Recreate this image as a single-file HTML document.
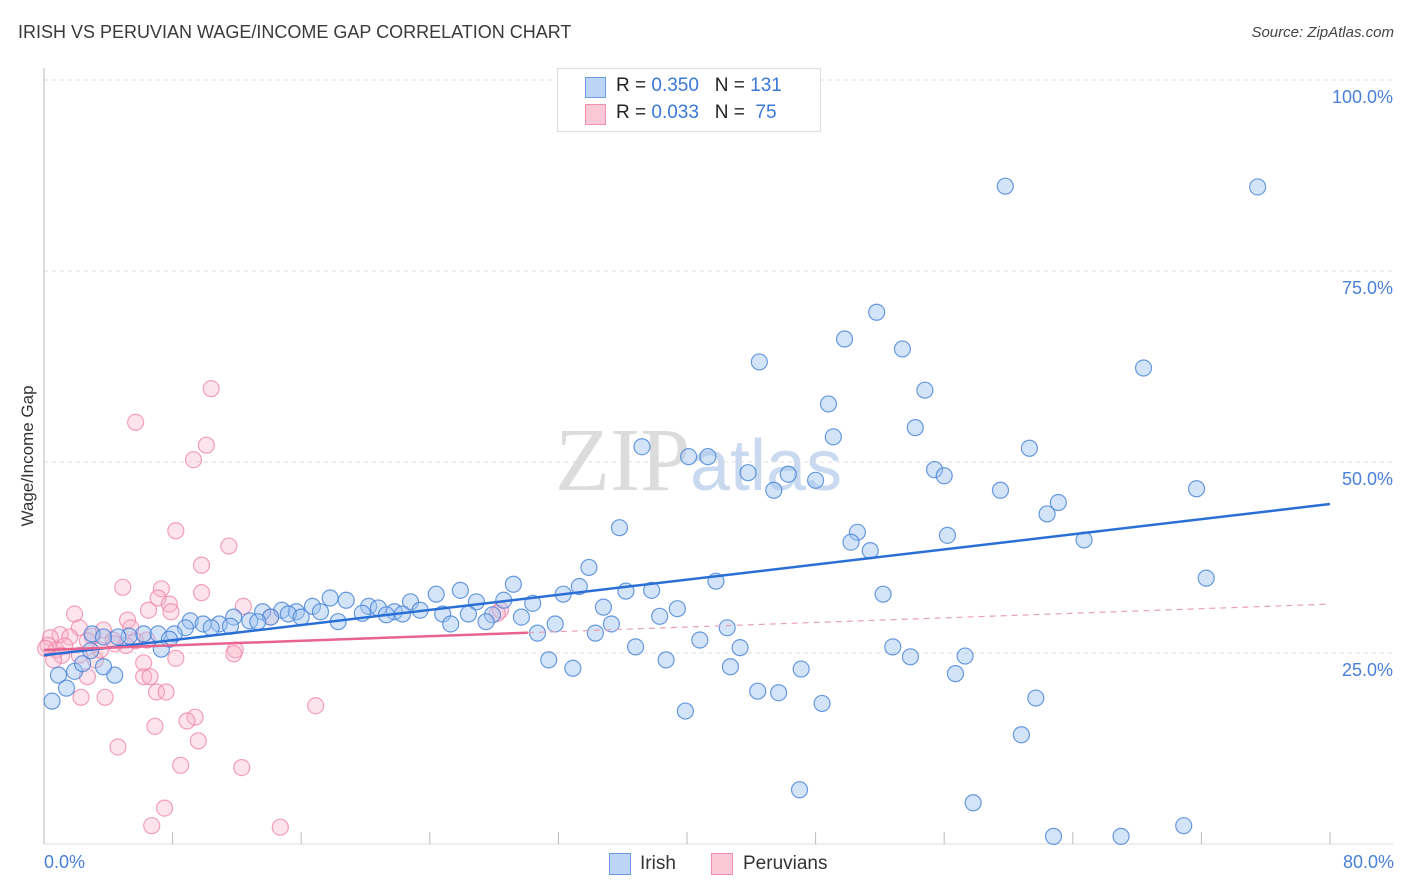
<!DOCTYPE html>
<html><head><meta charset="utf-8">
<style>
body{margin:0;background:#fff;font-family:"Liberation Sans",sans-serif;}
#wrap{position:relative;width:1406px;height:892px;overflow:hidden;}
.t{position:absolute;white-space:nowrap;}
</style></head>
<body>
<div id="wrap">
<div class="t" style="left:18px;top:22px;font-size:18px;color:#3a3a3a;">IRISH VS PERUVIAN WAGE/INCOME GAP CORRELATION CHART</div>
<div class="t" style="right:12px;top:24px;font-size:15px;color:#444;font-style:italic;">Source: ZipAtlas.com</div>
<svg id="svg" width="1406" height="892" style="position:absolute;left:0;top:0"></svg>
</div>
<script>
const irishX=[59.8,75.5,51.8,49.8,53.4,44.5,68.4,54.8,48.8,54.2,49.1,37.2,61.3,40.1,41.3,55.4,43.8,46.3,56.0,48.0,45.4,59.5,71.7,63.1,62.4,35.8,50.6,56.2,50.2,64.7,51.4,33.9,29.2,33.3,41.8,72.3,25.9,36.2,32.3,37.8,52.2,24.4,17.8,18.8,26.9,28.6,30.4,16.7,20.2,22.8,34.8,39.4,13.6,14.8,15.7,17.2,20.8,21.8,23.4,11.8,14.1,15.2,16.0,19.8,21.3,22.3,24.8,26.4,27.9,38.3,9.1,9.9,10.9,12.8,18.3,13.3,27.5,29.7,31.8,35.3,42.5,8.8,10.4,11.6,25.3,8.1,6.2,7.1,5.3,4.6,7.8,30.7,34.3,40.8,7.3,36.8,43.3,52.8,57.3,53.9,31.4,38.7,42.7,47.1,32.9,56.7,0.9,4.4,1.9,3.7,2.4,2.9,1.4,0.5,44.4,45.7,61.7,48.4,39.9,60.8,47.0,57.8,70.9,62.8,67.0,3.0,3.7];
const irishY=[86.1,86.0,69.6,66.1,64.8,63.1,62.3,59.4,57.6,54.5,53.3,52.0,51.8,50.7,50.7,49.0,48.6,48.4,48.2,47.6,46.3,46.3,46.5,44.7,43.2,41.4,40.8,40.4,39.5,39.8,38.4,36.2,34.0,33.7,34.4,34.8,33.2,33.1,32.7,33.2,32.7,32.7,32.2,31.9,31.7,31.9,31.5,31.1,31.1,31.7,31.0,30.8,30.4,30.6,30.4,30.4,30.9,30.4,30.6,29.7,29.7,30.1,29.7,30.2,30.0,30.1,30.1,30.1,30.0,29.8,29.2,28.8,28.8,29.2,29.1,29.1,29.1,29.7,28.8,28.8,28.3,28.3,28.3,28.5,28.8,27.5,27.5,27.5,27.2,27.1,26.8,27.6,27.6,26.7,25.5,25.8,25.7,25.8,24.6,24.5,24.1,24.1,23.2,22.9,23.0,22.3,22.1,22.1,22.6,23.2,23.6,25.3,20.4,18.7,20.0,19.8,19.1,18.4,17.4,14.3,7.1,5.4,2.4,1.0,1.0,27.5,27.1];
const peruX=[10.4,5.7,10.1,9.3,8.2,11.5,9.8,4.9,7.3,9.8,7.1,7.8,12.4,1.9,6.5,7.9,5.2,2.2,3.7,5.4,1.0,1.6,3.0,2.7,4.3,5.7,6.4,0.4,0.25,0.75,1.1,2.2,3.2,4.4,11.9,11.8,6.2,8.2,6.2,6.6,2.7,7.0,7.6,3.8,2.3,16.9,9.4,8.9,6.9,9.6,4.6,8.5,12.3,7.5,6.7,14.7,28.4,28.2,14.1,0.1,1.3,0.6,3.5,5.1];
const peruY=[59.6,55.2,52.2,50.3,41.0,39.0,36.5,33.6,33.4,32.9,32.2,31.4,31.1,30.1,30.6,30.4,29.3,28.3,28.0,28.3,27.4,27.1,27.2,26.6,26.7,26.6,26.7,27.0,26.0,25.4,24.7,24.7,24.1,26.2,25.4,24.9,23.7,24.3,21.9,21.9,21.9,19.9,19.9,19.2,19.2,18.1,16.6,16.1,15.4,13.5,12.7,10.3,10.0,4.7,2.4,2.2,30.6,30.2,29.7,25.6,25.9,24.1,25.4,26.0];
const yTicks=[25,50,75,100];
const yTickLabels=["25.0%","50.0%","75.0%","100.0%"];
const irishTrend=[24.7,44.5];
const peruTrend=[25.4,31.4];
const peruSolidEnd=30.1;

const NS="http://www.w3.org/2000/svg";
const svg=document.getElementById('svg');
const X0=44,X1=1330,Y0=844,Y100=80;
const sx=v=>X0+(X1-X0)*v/80;
const sy=v=>Y0-(Y0-Y100)*v/100;
function mk(tag,attrs,parent){const e=document.createElementNS(NS,tag);for(const k in attrs)e.setAttribute(k,attrs[k]);(parent||svg).appendChild(e);return e;}

// watermark
let wm=mk('text',{x:555,y:490,'font-size':90,'font-family':'Liberation Serif,serif',fill:'#dcdcdc'});


wm.innerHTML='ZIP<tspan font-family="Liberation Sans,sans-serif" font-size="72" fill="#c9daf0">atlas</tspan>';

// gridlines & y labels
yTicks.forEach((t,i)=>{
 const g=mk('line',{x1:X0,x2:1393,y1:sy(t),y2:sy(t),stroke:'#dddddd','stroke-dasharray':'4,4'});
 
 
 const l=mk('text',{x:1393,y:sy(t)+23,'text-anchor':'end','font-size':18,fill:'#4a80d8'});
 
 
 l.textContent=yTickLabels[i];
});
let ax=mk('line',{x1:X0,x2:X0,y1:68,y2:Y0,stroke:'#bbb'});


let bx=mk('line',{x1:X0,x2:1393,y1:Y0,y2:Y0,stroke:'#ddd'});


for(let i=0;i<=10;i++){
 const tk=mk('line',{x1:sx(i*8),x2:sx(i*8),y1:Y0-12,y2:Y0,stroke:'#bbb'});
 
 
}
// points
function pts(xs,ys,fill,stroke,name){
 xs.forEach((x,i)=>{
  const c=mk('circle',{cx:sx(x),cy:sy(ys[i]),r:8,fill:fill,stroke:stroke,'stroke-width':1.2});
  
  
 });
}
pts(peruX,peruY,'rgba(248,178,200,0.35)','rgba(238,130,165,0.75)','peruvian-point');
pts(irishX,irishY,'rgba(160,196,240,0.45)','rgba(70,130,215,0.8)','irish-point');
// trends
let bl=mk('line',{x1:sx(0),y1:sy(irishTrend[0]),x2:sx(80),y2:sy(irishTrend[1]),stroke:'#2a6fd6','stroke-width':2.5});


const pm=peruTrend[0]+(peruTrend[1]-peruTrend[0])*peruSolidEnd/80;
let pl=mk('line',{x1:sx(0),y1:sy(peruTrend[0]),x2:sx(peruSolidEnd),y2:sy(pm),stroke:'#e8638f','stroke-width':2.5});


let pd=mk('line',{x1:sx(peruSolidEnd),y1:sy(pm),x2:sx(80),y2:sy(peruTrend[1]),stroke:'#e8a0b8','stroke-width':1.2,'stroke-dasharray':'6,5'});


</script>
<div class="t" style="left:28px;top:456px;font-size:17px;color:#333;transform:translate(-50%,-50%) rotate(-90deg);">Wage/Income Gap</div>
<div class="t" style="left:44px;top:852px;font-size:18px;color:#4a80d8;">0.0%</div>
<div class="t" style="right:12px;top:852px;font-size:18px;color:#4a80d8;">80.0%</div>
<div style="position:absolute;left:557px;top:68px;width:262px;height:62px;border:1px solid #ddd;background:#fff;font-size:19px;color:#222;">
 <div style="position:absolute;left:27px;top:8px;width:19px;height:19px;background:#bcd4f5;border:1px solid #6b9de0;"></div>
 <div class="t" style="left:58px;top:6px;">R = <span style="color:#3a78d8">0.350</span>&nbsp;&nbsp;&nbsp;N = <span style="color:#3a78d8">131</span></div>
 <div style="position:absolute;left:27px;top:35px;width:19px;height:19px;background:#fbc8d7;border:1px solid #f090ae;"></div>
 <div class="t" style="left:58px;top:33px;">R = <span style="color:#3a78d8">0.033</span>&nbsp;&nbsp;&nbsp;N = &nbsp;<span style="color:#3a78d8">75</span></div>
</div>
<div>
 <div style="position:absolute;left:609px;top:853px;width:20px;height:20px;background:#bcd4f5;border:1px solid #6b9de0;"></div>
 <div class="t" style="left:640px;top:853px;font-size:19px;color:#333;">Irish</div>
 <div style="position:absolute;left:711px;top:853px;width:20px;height:20px;background:#fbc8d7;border:1px solid #f090ae;"></div>
 <div class="t" style="left:743px;top:853px;font-size:19px;color:#333;">Peruvians</div>
</div>
</body></html>
